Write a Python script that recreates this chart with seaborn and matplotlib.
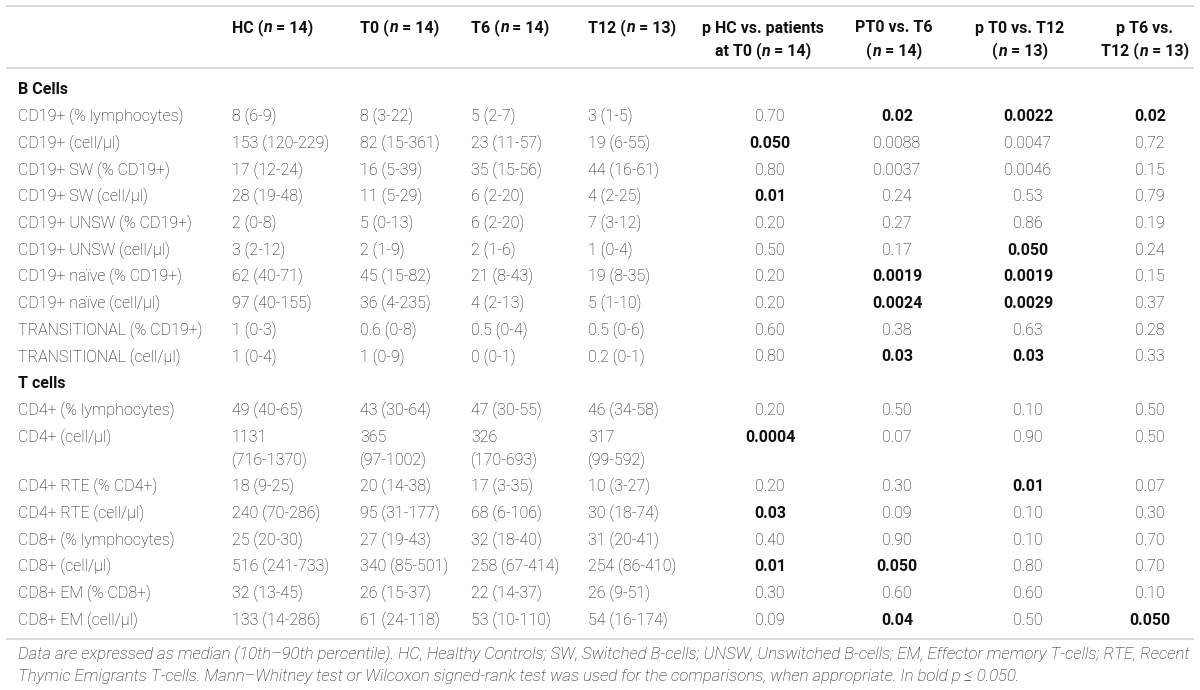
import matplotlib
matplotlib.use("Agg")
import matplotlib.pyplot as plt
import seaborn as sns

# ---- table content ----
row_labels = [
    "CD19+ (% lymphocytes)", "CD19+ (cell/μl)", "CD19+ SW (% CD19+)", "CD19+ SW (cell/μl)",
    "CD19+ UNSW (% CD19+)", "CD19+ UNSW (cell/μl)", "CD19+ naïve (% CD19+)", "CD19+ naïve (cell/μl)",
    "TRANSITIONAL (% CD19+)", "TRANSITIONAL (cell/μl)",
    "CD4+ (% lymphocytes)", "CD4+ (cell/μl)", "CD4+ RTE (% CD4+)", "CD4+ RTE (cell/μl)",
    "CD8+ (% lymphocytes)", "CD8+ (cell/μl)", "CD8+ EM (% CD8+)", "CD8+ EM (cell/μl)",
]
sections = {0: "B Cells", 10: "T cells"}

hc = ["8 (6-9)", "153 (120-229)", "17 (12-24)", "28 (19-48)", "2 (0-8)", "3 (2-12)",
      "62 (40-71)", "97 (40-155)", "1 (0-3)", "1 (0-4)",
      "49 (40-65)", "1131\n(716-1370)", "18 (9-25)", "240 (70-286)", "25 (20-30)",
      "516 (241-733)", "32 (13-45)", "133 (14-286)"]
t0 = ["8 (3-22)", "82 (15-361)", "16 (5-39)", "11 (5-29)", "5 (0-13)", "2 (1-9)",
      "45 (15-82)", "36 (4-235)", "0.6 (0-8)", "1 (0-9)",
      "43 (30-64)", "365\n(97-1002)", "20 (14-38)", "95 (31-177)", "27 (19-43)",
      "340 (85-501)", "26 (15-37)", "61 (24-118)"]
t6 = ["5 (2-7)", "23 (11-57)", "35 (15-56)", "6 (2-20)", "6 (2-20)", "2 (1-6)",
      "21 (8-43)", "4 (2-13)", "0.5 (0-4)", "0 (0-1)",
      "47 (30-55)", "326\n(170-693)", "17 (3-35)", "68 (6-106)", "32 (18-40)",
      "258 (67-414)", "22 (14-37)", "53 (10-110)"]
t12 = ["3 (1-5)", "19 (6-55)", "44 (16-61)", "4 (2-25)", "7 (3-12)", "1 (0-4)",
       "19 (8-35)", "5 (1-10)", "0.5 (0-6)", "0.2 (0-1)",
       "46 (34-58)", "317\n(99-592)", "10 (3-27)", "30 (18-74)", "31 (20-41)",
       "254 (86-410)", "26 (9-51)", "54 (16-174)"]

p_hc_t0 = ["0.70", "0.050", "0.80", "0.01", "0.20", "0.50", "0.20", "0.20", "0.60", "0.80",
           "0.20", "0.0004", "0.20", "0.03", "0.40", "0.01", "0.30", "0.09"]
p_t0_t6 = ["0.02", "0.0088", "0.0037", "0.24", "0.27", "0.17", "0.0019", "0.0024", "0.38", "0.03",
           "0.50", "0.07", "0.30", "0.09", "0.90", "0.050", "0.60", "0.04"]
p_t0_t12 = ["0.0022", "0.0047", "0.0046", "0.53", "0.86", "0.050", "0.0019", "0.0029", "0.63", "0.03",
            "0.10", "0.90", "0.01", "0.10", "0.10", "0.80", "0.60", "0.50"]
p_t6_t12 = ["0.02", "0.72", "0.15", "0.79", "0.19", "0.24", "0.15", "0.37", "0.28", "0.33",
            "0.50", "0.50", "0.07", "0.30", "0.70", "0.70", "0.10", "0.050"]

# which p values are printed in bold (1 = bold)
bold_hc_t0 = [0, 1, 0, 1, 0, 0, 0, 0, 0, 0, 0, 1, 0, 1, 0, 1, 0, 0]
bold_t0_t6 = [1, 0, 0, 0, 0, 0, 1, 1, 0, 1, 0, 0, 0, 0, 0, 1, 0, 1]
bold_t0_t12 = [1, 0, 0, 0, 0, 1, 1, 1, 0, 1, 0, 0, 1, 0, 0, 0, 0, 0]
bold_t6_t12 = [1, 0, 0, 0, 0, 0, 0, 0, 0, 0, 0, 0, 0, 0, 0, 0, 0, 1]

group_heads = [("HC", "14"), ("T0", "14"), ("T6", "14"), ("T12", "13")]
p_heads = [("p HC vs. patients", "at T0 (", "14"), ("PT0 vs. T6", "(", "14"),
           ("p T0 vs. T12", "(", "13"), ("p T6 vs.", "T12 (", "13")]

footnote = [
    "Data are expressed as median (10th–90th percentile). HC, Healthy Controls; SW, Switched B-cells; "
    "UNSW, Unswitched B-cells; EM, Effector memory T-cells; RTE, Recent",
    "Thymic Emigrants T-cells. Mann–Whitney test or Wilcoxon signed-rank test was used for the "
    "comparisons, when appropriate. In bold p ≤ 0.050.",
]

# ---- style ----
sns.set_theme(style="white")
plt.rcParams["font.family"] = ["Roboto", "DejaVu Sans"]
ink = "#111111"
rule = "#d2d2d2"
fs = 11.5

fig = plt.figure(figsize=(12, 6.9), dpi=100)
ax = fig.add_axes([0, 0, 1, 1])
ax.set_xlim(0, 1200)
ax.set_ylim(690, 0)
ax.axis("off")
renderer = fig.canvas.get_renderer()


def width_of(s, **kw):
    t = ax.text(0, 0, "|" + s + "|", **kw)
    w1 = t.get_window_extent(renderer).width
    t.remove()
    t = ax.text(0, 0, "||", **kw)
    w2 = t.get_window_extent(renderer).width
    t.remove()
    return w1 - w2


def draw_runs(x, y, runs, ha="left"):
    widths = [width_of(s, fontsize=fs, color=ink, **st) for s, st in runs]
    x0 = x if ha == "left" else x - sum(widths) / 2
    for (s, st), w in zip(runs, widths):
        ax.text(x0, y, s, ha="left", va="center", fontsize=fs, color=ink, **st)
        x0 += w


B = {"fontweight": "bold"}
BI = {"fontweight": "bold", "fontstyle": "italic"}

# header
group_x = [232, 360, 471, 588]
p_head_x = [763, 894, 1020, 1145]
p_val_x = [770, 897, 1028, 1150]

for (name, n), x in zip(group_heads, group_x):
    draw_runs(x, 28, [(name + " (", B), ("n", BI), (" = " + n + ")", B)])
for (l1, l2, n), x in zip(p_heads, p_head_x):
    draw_runs(x, 28, [(l1, B)], ha="center")
    draw_runs(x, 51, [(l2, B), ("n", BI), (" = " + n + ")", B)], ha="center")

ax.hlines([6, 68], 6, 1194, color=rule, lw=1.2)

# body
pitch = 26.7
wrap = 23
y = 90
p_cols = [p_hc_t0, p_t0_t6, p_t0_t12, p_t6_t12]
bold_cols = [bold_hc_t0, bold_t0_t6, bold_t0_t12, bold_t6_t12]
for i, lab in enumerate(row_labels):
    if i in sections:
        if i > 0:
            y += pitch
        ax.text(18, y, sections[i], ha="left", va="center", fontsize=fs, color=ink, fontweight="bold")
    y += pitch
    ax.text(18, y, lab, ha="left", va="center", fontsize=fs, color=ink, fontweight="light")
    extra = 0
    for col, x in zip([hc, t0, t6, t12], group_x):
        parts = col[i].split("\n")
        for k, part in enumerate(parts):
            ax.text(x, y + k * wrap, part, ha="left", va="center", fontsize=fs, color=ink, fontweight="light")
        extra = max(extra, (len(parts) - 1) * wrap)
    for vals, bolds, x in zip(p_cols, bold_cols, p_val_x):
        ax.text(x, y, vals[i], ha="center", va="center", fontsize=fs, color=ink,
                fontweight="bold" if bolds[i] else "light")
    y += extra

ax.hlines([639], 6, 1194, color=rule, lw=1.2)

# footnote, sized so the first line spans the table width
w = width_of(footnote[0], fontsize=fs, fontstyle="italic", fontweight="light")
ffs = fs * (1192 - 18) / w
for k, line in enumerate(footnote):
    ax.text(18, 654 + k * 23, line, ha="left", va="center", fontsize=ffs, color=ink,
            fontstyle="italic", fontweight="light")

fig.savefig("out.png", dpi=100)
